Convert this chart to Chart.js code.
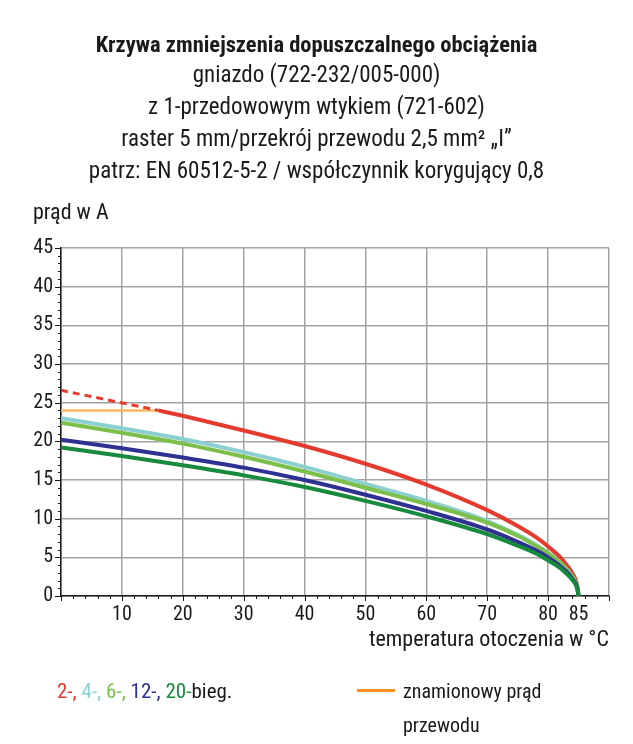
<!DOCTYPE html>
<html>
<head>
<meta charset="utf-8">
<script src="https://cdn.jsdelivr.net/npm/chart.js@4/dist/chart.umd.min.js"></script>
<style>
  body { margin: 0; background: #fff; }
  #wrap { position: relative; width: 633px; height: 744px; overflow: hidden;
          font-family: "Roboto Condensed", "DejaVu Sans Condensed", Roboto, sans-serif; color: #1a1a1a; }
  #chart { position: absolute; left: 0; top: 0; }
  .t { position: absolute; left: 0; width: 633px; text-align: center; font-size: 23px; line-height: 26px; white-space: nowrap; }
  .abs { position: absolute; font-size: 20px; line-height: 24px; white-space: nowrap; }
</style>
</head>
<body>
<div id="wrap">
  <canvas id="chart" width="633" height="744"></canvas>
  <div class="t" style="top:31px;font-weight:bold;font-size:22.5px">Krzywa zmniejszenia dopuszczalnego obciążenia</div>
  <div class="t" style="top:62px">gniazdo (722-232/005-000)</div>
  <div class="t" style="top:94px">z 1-przedowowym wtykiem (721-602)</div>
  <div class="t" style="top:126px">raster 5 mm/przekrój przewodu 2,5 mm² „I”</div>
  <div class="t" style="top:158px">patrz: EN 60512-5-2 / współczynnik korygujący 0,8</div>
  <div class="abs" style="left:33px;top:200px;font-size:22px">prąd w A</div>
  <div class="abs" style="left:57px;top:679px;font-size:21px"><span style="color:#e43b2f">2-, </span><span style="color:#8ccfd1">4-, </span><span style="color:#7cc04b">6-, </span><span style="color:#2e3192">12-, </span><span style="color:#178a3e">20-</span>bieg.</div>
  <div style="position:absolute;left:357px;top:689px;width:38px;height:3px;background:#f39221"></div>
  <div class="abs" style="left:403px;top:679px">znamionowy prąd</div>
  <div class="abs" style="left:403px;top:713px">przewodu</div>
</div>
<script>
// temperatura otoczenia (°C) i prąd (A)
const tempC = [0, 10, 20, 30, 40, 50, 60, 70, 75, 78, 80, 82, 83, 84, 84.8, 85];
const bieg4 = [23.0, 21.7, 20.3, 18.6, 16.7, 14.5, 12.3, 9.7, 7.9, 6.6, 5.6, 4.3, 3.5, 2.5, 1.1, 0];
const bieg6 = [22.4, 21.1, 19.7, 18.0, 16.1, 14.0, 11.9, 9.5, 7.8, 6.5, 5.5, 4.25, 3.45, 2.45, 1.1, 0];
const bieg12 = [20.2, 19.1, 17.9, 16.6, 15.0, 13.1, 11.0, 8.6, 7.0, 5.9, 5.0, 3.85, 3.15, 2.2, 1.0, 0];
const bieg20 = [19.2, 18.1, 16.9, 15.6, 14.1, 12.3, 10.3, 8.0, 6.5, 5.5, 4.6, 3.6, 2.9, 2.05, 0.9, 0];

const tempC2 = [16, 20, 30, 40, 50, 60, 70, 75, 78, 80, 82, 83, 84, 84.8, 85];
const bieg2 = [24.0, 23.3, 21.4, 19.4, 17.1, 14.4, 11.1, 9.05, 7.6, 6.4, 5.0, 4.05, 2.9, 1.3, 0];
const tempC2Ext = [0, 16];
const bieg2Ext = [26.6, 24.0];
const tempRated = [0, 16];
const ratedCurrent = [24, 24];

const xTicks = [0, 10, 20, 30, 40, 50, 60, 70, 80, 85, 90];
const yTicks = [0, 5, 10, 15, 20, 25, 30, 35, 40, 45];

const FONT = '"Roboto Condensed", "DejaVu Sans Condensed", Roboto, sans-serif';

function pts(xs, ys) {
    return xs.map((x, i) => ({ x: x, y: ys[i] }));
}

function line(label, xs, ys, color, order, extra) {
    return Object.assign({
        label: label,
        data: pts(xs, ys),
        borderColor: color,
        borderWidth: 4,
        pointRadius: 0,
        fill: false,
        cubicInterpolationMode: 'monotone',
        order: order
    }, extra || {});
}

// small tick marks on the axes
const minorTicks = {
    id: 'minorTicks',
    afterDraw(chart) {
        const c = chart.ctx, xs = chart.scales.x, ys = chart.scales.y;
        const a = chart.chartArea;
        c.save();
        c.strokeStyle = '#1a1a1a';
        c.lineWidth = 1;
        for (let v = 0; v <= 45; v++) {
            const p = Math.round(ys.getPixelForValue(v)) + 0.5;
            const len = v % 5 === 0 ? 6 : 3;
            c.beginPath(); c.moveTo(a.left - len, p); c.lineTo(a.left, p); c.stroke();
        }
        for (let v = 0; v <= 90; v += 2) {
            const p = Math.round(xs.getPixelForValue(v)) + 0.5;
            const len = v % 10 === 0 ? 5 : 3;
            c.beginPath(); c.moveTo(p, a.bottom); c.lineTo(p, a.bottom + len); c.stroke();
        }
        c.restore();
    }
};

new Chart(document.getElementById('chart'), {
    type: 'line',
    data: {
        datasets: [
            line('20-bieg.', tempC, bieg20, '#178a3e', 0),
            line('12-bieg.', tempC, bieg12, '#2e3192', 1),
            line('6-bieg.', tempC, bieg6, '#7cc04b', 2),
            line('4-bieg.', tempC, bieg4, '#8ccfd1', 3),
            line('2-bieg.', tempC2, bieg2, '#e43b2f', 4),
            line('2-bieg. (ext)', tempC2Ext, bieg2Ext, '#e43b2f', 5, { borderWidth: 3, borderDash: [7, 5], cubicInterpolationMode: 'default' }),
            line('znamionowy prąd przewodu', tempRated, ratedCurrent, '#fbb463', 6, { borderWidth: 2.5, cubicInterpolationMode: 'default' })
        ]
    },
    options: {
        responsive: false,
        animation: false,
        layout: { padding: { left: 0, top: 248, right: 24, bottom: 90 } },
        plugins: { legend: { display: false }, tooltip: { enabled: false } },
        scales: {
            x: {
                type: 'linear',
                min: 0,
                max: 90,
                afterBuildTicks: s => { s.ticks = xTicks.map(v => ({ value: v })); },
                afterFit: s => { s.height = 58; },
                grid: {
                    drawTicks: false,
                    lineWidth: 1.5,
                    color: c => (c.tick && c.tick.value === 85) ? 'rgba(0,0,0,0)' : '#a3a3a3'
                },
                border: { color: '#1a1a1a', width: 1.5 },
                ticks: {
                    padding: 7,
                    color: '#1a1a1a',
                    font: { family: FONT, size: 20 },
                    maxRotation: 0,
                    autoSkip: false,
                    callback: v => (v === 0 || v === 90) ? '' : String(v)
                },
                title: {
                    display: true,
                    text: 'temperatura otoczenia w °C',
                    align: 'end',
                    color: '#1a1a1a',
                    font: { family: FONT, size: 22 },
                    padding: { top: 0, bottom: 0 }
                }
            },
            y: {
                min: 0,
                max: 45,
                afterBuildTicks: s => { s.ticks = yTicks.map(v => ({ value: v })); },
                afterFit: s => { s.width = 61; },
                grid: { drawTicks: false, lineWidth: 1.5, color: '#a3a3a3' },
                border: { color: '#1a1a1a', width: 1.5 },
                ticks: {
                    padding: 8,
                    color: '#1a1a1a',
                    font: { family: FONT, size: 20 }
                }
            }
        }
    },
    plugins: [minorTicks]
});
</script>
</body>
</html>
